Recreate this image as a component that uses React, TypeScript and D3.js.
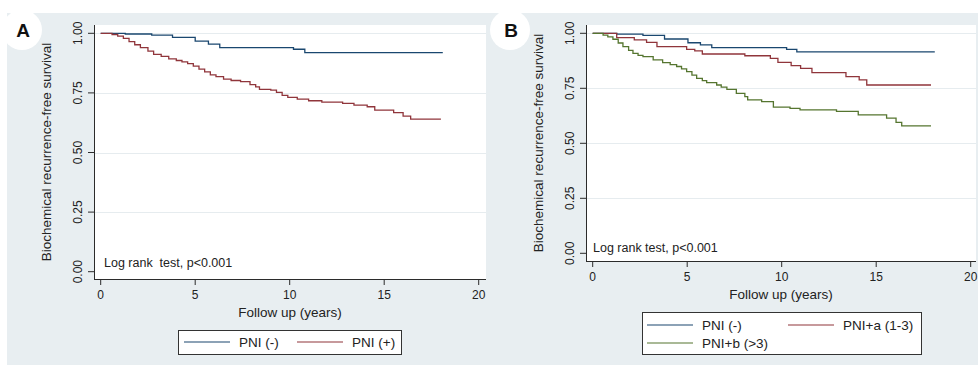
import React, { useEffect, useRef } from "react";
import * as d3 from "d3";

// panel A : PNI (-) vs PNI (+)
const timeA_neg = [0, 1.3, 2.7, 3.8, 5.0, 5.7, 6.3, 10.2, 10.8, 18.1];
const survA_neg = [1, 0.997, 0.992, 0.983, 0.967, 0.955, 0.94, 0.933, 0.919, 0.919];
const timeA_pos = [0, 0.6, 0.9, 1.2, 1.5, 1.8, 2.1, 2.5, 2.8, 3.2, 3.6, 4.0, 4.3, 4.6, 4.9, 5.2, 5.5, 5.8, 6.1, 6.5, 6.9, 7.4, 7.9, 8.2, 8.4, 9.0, 9.3, 9.6, 9.9, 10.4, 11.0, 11.7, 12.8, 13.4, 14.1, 14.5, 15.5, 16.0, 16.4, 18.0];
const survA_pos = [1, 0.995, 0.988, 0.979, 0.965, 0.952, 0.94, 0.925, 0.912, 0.903, 0.893, 0.886, 0.88, 0.873, 0.862, 0.85, 0.838, 0.826, 0.818, 0.808, 0.802, 0.797, 0.785, 0.775, 0.765, 0.762, 0.752, 0.74, 0.731, 0.724, 0.717, 0.711, 0.706, 0.699, 0.692, 0.678, 0.667, 0.653, 0.64, 0.64];

// panel B : PNI (-), PNI+a (1-3), PNI+b (>3)
const timeB_neg = [0, 1.27, 2.66, 3.8, 5.04, 5.7, 6.3, 10.26, 10.8, 18.1];
const survB_neg = [1, 0.996, 0.991, 0.974, 0.957, 0.947, 0.935, 0.927, 0.916, 0.916];
const timeB_a = [0, 1.27, 2.2, 2.85, 3.4, 4.97, 5.4, 5.8, 8.05, 9.4, 9.8, 10.5, 11.0, 11.6, 13.4, 14.1, 14.5, 17.9];
const survB_a = [1, 0.98, 0.97, 0.959, 0.939, 0.927, 0.92, 0.906, 0.898, 0.886, 0.868, 0.853, 0.841, 0.821, 0.803, 0.788, 0.765, 0.765];
const timeB_b = [0, 0.55, 0.8, 1.07, 1.35, 1.6, 1.9, 2.13, 2.4, 2.66, 3.2, 3.7, 4.1, 4.44, 4.7, 4.97, 5.25, 5.5, 5.8, 6.03, 6.56, 6.8, 7.1, 7.6, 8.05, 8.2, 8.94, 9.56, 10.44, 10.97, 12.9, 14.05, 15.55, 16.05, 16.35, 17.9];
const survB_b = [1, 0.992, 0.984, 0.973, 0.956, 0.939, 0.922, 0.909, 0.9, 0.894, 0.879, 0.867, 0.858, 0.849, 0.838, 0.826, 0.81, 0.795, 0.785, 0.776, 0.765, 0.755, 0.745, 0.727, 0.712, 0.697, 0.689, 0.664, 0.659, 0.652, 0.645, 0.629, 0.614, 0.595, 0.579, 0.579];

const xTicks = [0, 5, 10, 15, 20];
const yTicks = [0, 0.25, 0.5, 0.75, 1];
const yLabel = "Biochemical recurrence-free survival";
const xLabel = "Follow up (years)";

const NAVY = "#1a476f";
const MAROON = "#90353b";
const GREEN = "#55752f";
const FONT = "'Liberation Sans', Arial, sans-serif";

const panels = [
  {
    letter: "A",
    circle: [22, 30],
    plot: { x0: 94, x1: 486, y0: 25, y1: 279 },
    xr: [100.7, 478.7],
    yr: [271.7, 33.3],
    note: "Log rank  test, p<0.001",
    notePos: [104, 263],
    series: [
      { name: "PNI (-)", t: timeA_neg, s: survA_neg, color: NAVY },
      { name: "PNI (+)", t: timeA_pos, s: survA_pos, color: MAROON },
    ],
    legend: {
      box: [178, 330, 223, 24],
      items: [
        [184, 342],
        [297, 342],
      ],
    },
  },
  {
    letter: "B",
    circle: [510, 30],
    plot: { x0: 586, x1: 976, y0: 25, y1: 261 },
    xr: [592.7, 970.7],
    yr: [253.3, 33.3],
    note: "Log rank test, p<0.001",
    notePos: [593, 248],
    series: [
      { name: "PNI (-)", t: timeB_neg, s: survB_neg, color: NAVY },
      { name: "PNI+a (1-3)", t: timeB_a, s: survB_a, color: MAROON },
      { name: "PNI+b (>3)", t: timeB_b, s: survB_b, color: GREEN },
    ],
    legend: {
      box: [642, 312, 279, 42],
      items: [
        [647, 325],
        [788, 325],
        [647, 343],
      ],
    },
  },
];

const App = () => {
  const ref = useRef(null);

  useEffect(() => {
    const svg = d3.select(ref.current);
    svg.selectAll("*").remove();

    svg.append("rect").attr("x", 7).attr("y", 13).attr("width", 971).attr("height", 352).attr("fill", "#e8eef1");

    panels.forEach((p) => {
      const g = svg.append("g");
      const x = d3.scaleLinear().domain([0, 20]).range(p.xr);
      const y = d3.scaleLinear().domain([0, 1]).range(p.yr);

      g.append("rect")
        .attr("x", p.plot.x0)
        .attr("y", p.plot.y0)
        .attr("width", p.plot.x1 - p.plot.x0)
        .attr("height", p.plot.y1 - p.plot.y0)
        .attr("fill", "white");

      // grid
      g.selectAll("line.grid")
        .data(yTicks.filter((d) => d > 0))
        .join("line")
        .attr("class", "grid")
        .attr("x1", p.plot.x0 + 1)
        .attr("x2", p.plot.x1)
        .attr("y1", (d) => Math.round(y(d)) + 0.5)
        .attr("y2", (d) => Math.round(y(d)) + 0.5)
        .attr("stroke", "#e6ecef")
        .attr("stroke-width", 1.2);

      // axes
      const ax = "#2b2b2b";
      g.append("line")
        .attr("x1", p.plot.x0 + 0.5).attr("x2", p.plot.x0 + 0.5)
        .attr("y1", p.plot.y0).attr("y2", p.plot.y1 + 0.5)
        .attr("stroke", ax);
      g.append("line")
        .attr("x1", p.plot.x0).attr("x2", p.plot.x1)
        .attr("y1", p.plot.y1 + 0.5).attr("y2", p.plot.y1 + 0.5)
        .attr("stroke", ax);

      g.selectAll("line.yt")
        .data(yTicks)
        .join("line")
        .attr("class", "yt")
        .attr("x1", p.plot.x0 - 6)
        .attr("x2", p.plot.x0)
        .attr("y1", (d) => y(d))
        .attr("y2", (d) => y(d))
        .attr("stroke", ax);
      g.selectAll("text.yt")
        .data(yTicks)
        .join("text")
        .attr("class", "yt")
        .attr("transform", (d) => `translate(${p.plot.x0 - 16.5},${y(d)}) rotate(-90)`)
        .attr("text-anchor", "middle")
        .attr("dy", "0.35em")
        .attr("font-family", FONT)
        .attr("font-size", 12)
        .attr("fill", "#222")
        .text((d) => d3.format(".2f")(d));

      g.selectAll("line.xt")
        .data(xTicks)
        .join("line")
        .attr("class", "xt")
        .attr("x1", (d) => x(d))
        .attr("x2", (d) => x(d))
        .attr("y1", p.plot.y1)
        .attr("y2", p.plot.y1 + 6)
        .attr("stroke", ax);
      g.selectAll("text.xt")
        .data(xTicks)
        .join("text")
        .attr("class", "xt")
        .attr("x", (d) => x(d))
        .attr("y", p.plot.y1 + 16)
        .attr("text-anchor", "middle")
        .attr("dy", "0.35em")
        .attr("font-family", FONT)
        .attr("font-size", 12)
        .attr("fill", "#222")
        .text((d) => d);

      // titles
      g.append("text")
        .attr("transform", `translate(${p.plot.x0 - 48},${(p.plot.y0 + p.plot.y1) / 2}) rotate(-90)`)
        .attr("text-anchor", "middle")
        .attr("dy", "0.35em")
        .attr("font-family", FONT)
        .attr("font-size", 13.5)
        .attr("fill", "#222")
        .text(yLabel);
      g.append("text")
        .attr("x", (p.plot.x0 + p.plot.x1) / 2)
        .attr("y", p.plot.y1 + 33)
        .attr("text-anchor", "middle")
        .attr("dy", "0.35em")
        .attr("font-family", FONT)
        .attr("font-size", 13.5)
        .attr("fill", "#222")
        .text(xLabel);

      g.append("text")
        .attr("x", p.notePos[0])
        .attr("y", p.notePos[1])
        .attr("dy", "0.35em")
        .attr("font-family", FONT)
        .attr("font-size", 12.5)
        .attr("fill", "#222")
        .style("white-space", "pre")
        .text(p.note);

      // curves
      const line = d3
        .line()
        .x((d) => x(d[0]))
        .y((d) => y(d[1]))
        .curve(d3.curveStepAfter);
      g.selectAll("path.km")
        .data(p.series)
        .join("path")
        .attr("class", "km")
        .attr("d", (d) => line(d.t.map((t, i) => [t, d.s[i]])))
        .attr("fill", "none")
        .attr("stroke", (d) => d.color)
        .attr("stroke-width", 1.3);

      // legend
      const [lx, ly, lw, lh] = p.legend.box;
      g.append("rect")
        .attr("x", lx + 0.5).attr("y", ly + 0.5)
        .attr("width", lw).attr("height", lh)
        .attr("fill", "white")
        .attr("stroke", "#333");
      const li = g.selectAll("g.li")
        .data(p.series)
        .join("g")
        .attr("class", "li")
        .attr("transform", (d, i) => `translate(${p.legend.items[i][0]},${p.legend.items[i][1]})`);
      li.append("line")
        .attr("x1", 0).attr("x2", 46)
        .attr("y1", 0).attr("y2", 0)
        .attr("stroke", (d) => d.color)
        .attr("stroke-width", 1.2);
      li.append("text")
        .attr("x", 55)
        .attr("dy", "0.35em")
        .attr("font-family", FONT)
        .attr("font-size", 13.5)
        .attr("fill", "#222")
        .text((d) => d.name);

      // panel letter
      g.append("circle")
        .attr("cx", p.circle[0]).attr("cy", p.circle[1])
        .attr("r", 20).attr("fill", "white");
      g.append("text")
        .attr("x", p.circle[0] + 1)
        .attr("y", p.circle[1])
        .attr("text-anchor", "middle")
        .attr("dy", "0.36em")
        .attr("font-family", FONT)
        .attr("font-weight", "bold")
        .attr("font-size", 19)
        .attr("fill", "#111")
        .text(p.letter);
    });
  }, []);

  return (
    <svg
      ref={ref}
      width={978}
      height={365}
      style={{ position: "absolute", left: 0, top: 0, background: "white" }}
    />
  );
};

export default App;
